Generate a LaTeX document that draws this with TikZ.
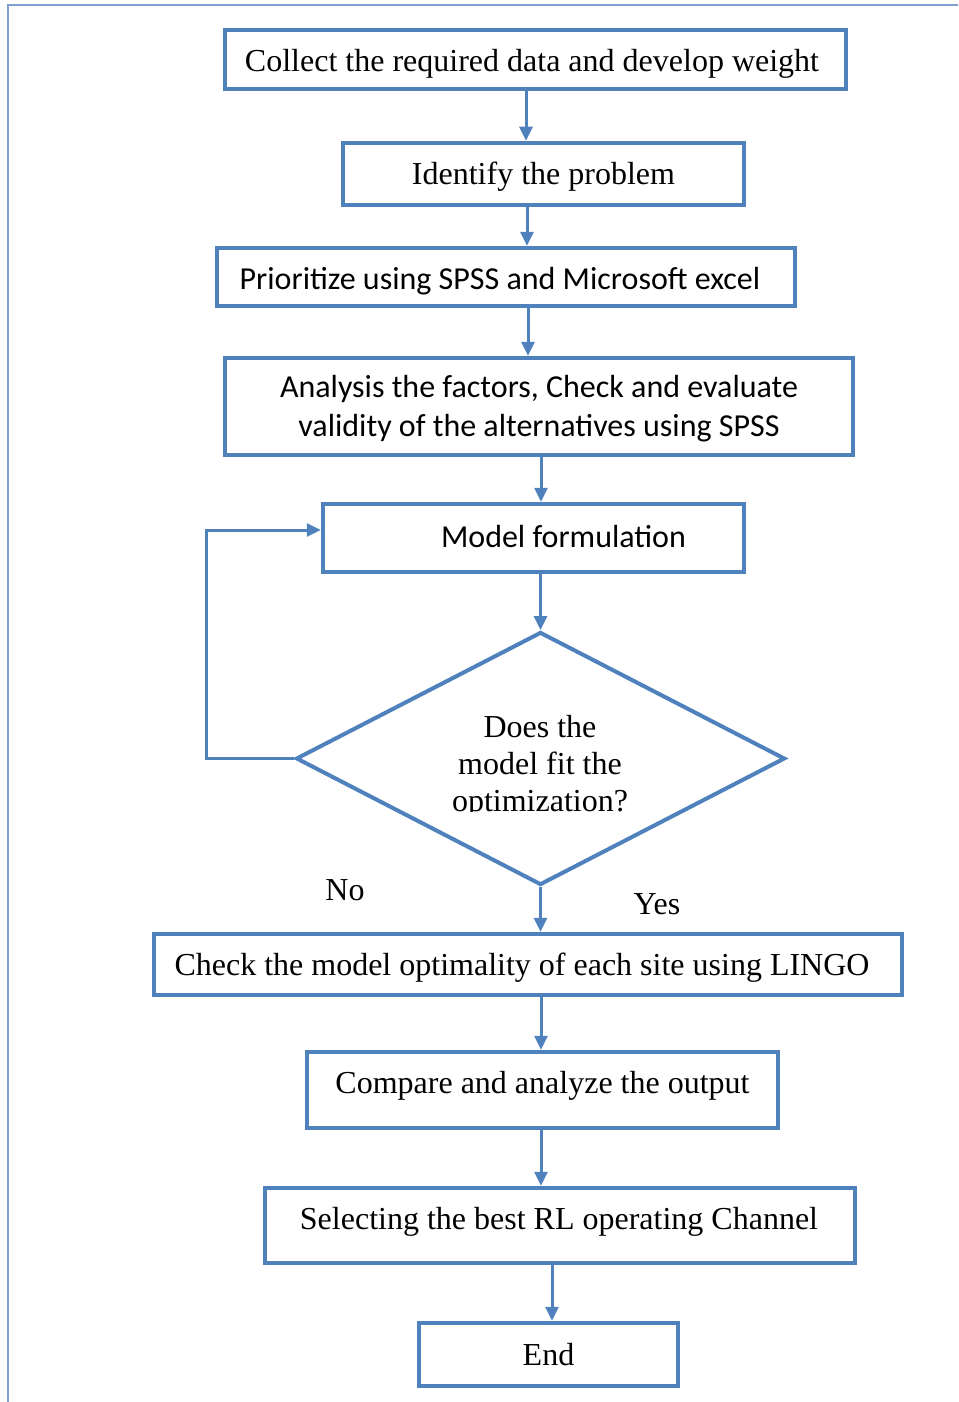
\documentclass[tikz,border=0pt]{standalone}
\usepackage{fontspec}
\setmainfont{Liberation Serif}
\newfontfamily\calibri{Carlito}
\usetikzlibrary{arrows.meta,shapes.geometric}
\definecolor{flowblue}{HTML}{4F81BD}
\definecolor{frameblue}{HTML}{7F9FD0}
% move a label inside its box: horizontal offset (twice the shift), vertical shift, text
\newcommand\nudge[3]{\hspace*{#1}\raisebox{#2}[\height][\depth]{#3}}

\begin{document}
\begin{tikzpicture}[x=1pt,y=-1pt,
  box/.style={draw=flowblue, line width=4.5pt, inner sep=0pt, align=center},
  serif/.style={font=\fontsize{32}{37}\selectfont},
  sans/.style={font=\calibri\fontsize{32}{39}\selectfont},
  flow/.style={draw=flowblue, line width=3pt, -{Triangle[length=14pt,width=13pt]}},
  tag/.style={font=\fontsize{32}{37}\selectfont, inner sep=0pt}]
\useasboundingbox (0,0) rectangle (958,1402);
% page frame
\draw[frameblue, line width=1.5pt] (8,1402) -- (8,5) -- (958,5);

% process steps
\node[box, serif, minimum width=621pt, minimum height=59pt] (b1) at (535.5,59.5) {\nudge{-7pt}{-4pt}{Collect the required data and develop weight}};
\node[box, serif, minimum width=401pt, minimum height=62pt] (b2) at (543.5,174) {\nudge{0pt}{-3pt}{Identify the problem}};
\node[box, sans, minimum width=578pt, minimum height=58pt] (b3) at (506,277) {\nudge{-12pt}{-4pt}{Prioritize using SPSS and Microsoft excel}};
\node[box, sans, minimum width=628pt, minimum height=97pt] (b4) at (539,406.5) {\raisebox{-3pt}[\height][\depth]{\begin{tabular}{@{}c@{}}Analysis the factors, Check and evaluate\\validity of the alternatives using SPSS\end{tabular}}};
\node[box, sans, minimum width=421pt, minimum height=68pt] (b5) at (533.5,538) {\nudge{60pt}{1pt}{Model formulation}};
\node[draw=flowblue, line width=4pt, diamond, inner sep=0pt, minimum width=489pt, minimum height=253pt] (d) at (540.5,758.5) {};
\begin{scope}
  \clip (300,690) rectangle (780,811);
  \node[tag, align=center] (dtext) at (540,767) {Does the\\model fit the\\optimization?};
\end{scope}
\node[box, serif, minimum width=748pt, minimum height=61pt] (b7) at (528,964.5) {\nudge{-12pt}{-3pt}{Check the model optimality of each site using LINGO}};
\node[box, serif, minimum width=471pt, minimum height=76pt] (b8) at (542.5,1090) {\nudge{0pt}{4pt}{Compare and analyze the output}};
\node[box, serif, minimum width=590pt, minimum height=75pt] (b9) at (560,1225.5) {\nudge{-2pt}{4pt}{Selecting the best RL operating Channel}};
\node[box, serif, minimum width=259pt, minimum height=63pt] (b10) at (548.5,1354.5) {End};

% branch labels
\node[tag] (no) at (345,890) {No};
\node[tag] (yes) at (657,904) {Yes};

% connectors
\draw[flow] ([xshift=-9.5pt]b1.south) -- ([xshift=-9.5pt]b1.south |- b2.north);
\draw[flow] ([xshift=-16.5pt]b2.south) -- ([xshift=-16.5pt]b2.south |- b3.north);
\draw[flow] ([xshift=22pt]b3.south) -- ([xshift=22pt]b3.south |- b4.north);
\draw[flow] ([xshift=2pt]b4.south) -- ([xshift=2pt]b4.south |- b5.north);
\draw[flow] (b5.south -| d.north) -- (d.north);
\draw[flow] (d.south) -- (d.south |- b7.north);
\draw[flow] ([xshift=13pt]b7.south) -- ([xshift=13pt]b7.south |- b8.north);
\draw[flow] ([xshift=-1.5pt]b8.south) -- ([xshift=-1.5pt]b8.south |- b9.north);
\draw[flow] ([xshift=-8pt]b9.south) -- ([xshift=-8pt]b9.south |- b10.north);
% loop back when the model does not fit
\draw[flow] (d.west) -- ++(-88,0) |- ([yshift=8pt]b5.west);
\end{tikzpicture}
\end{document}
